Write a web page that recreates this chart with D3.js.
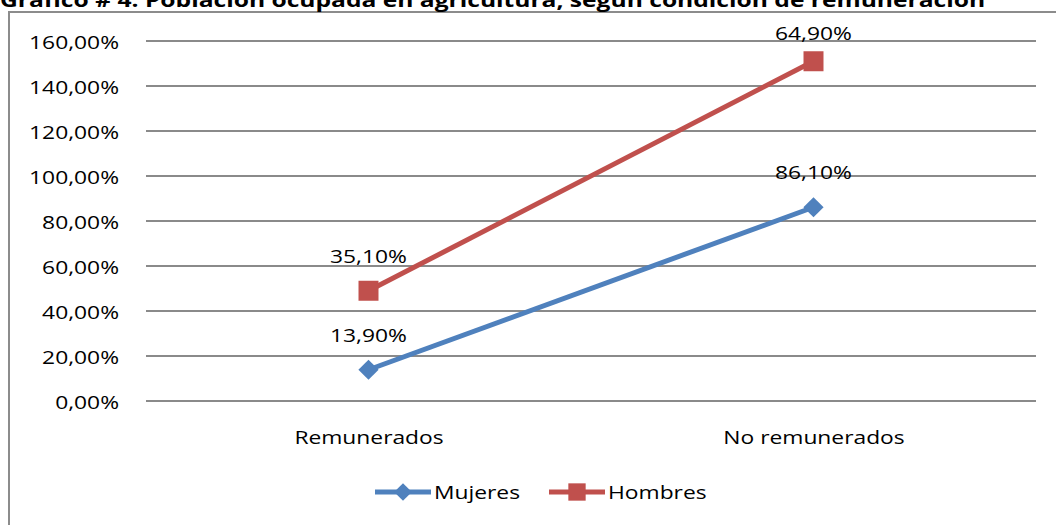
<!DOCTYPE html>
<html>
<head>
<meta charset="utf-8">
<script src="https://cdn.jsdelivr.net/npm/d3@7"></script>
<style>
  body { margin: 0; background: #fff; }
  svg { display: block; font-family: "Open Sans", sans-serif; }
</style>
</head>
<body>
<div id="chart"></div>
<script>
// data
const categories = ['Remunerados', 'No remunerados'];
const seriesNames = ['Mujeres', 'Hombres'];
const mujeres = [13.9, 86.1];
const hombres = [35.1, 64.9];
const yTicks = [0, 20, 40, 60, 80, 100, 120, 140, 160];
const title = 'Gráfico # 4. Población ocupada en agricultura, según condición de remuneración';

const width = 1056, height = 525;
const colors = { Mujeres: '#4F81BD', Hombres: '#C0504D' };
const stretchK = 1.2; // glyphs in the picture are wider than the installed fonts

const fmt = v => d3.format('.2f')(v).replace('.', ',') + '%';

function stretch(sel, k) {
  sel.each(function () {
    const w = this.getComputedTextLength();
    d3.select(this).attr('textLength', w * k).attr('lengthAdjust', 'spacingAndGlyphs');
  });
}

const svg = d3.select('#chart').append('svg')
  .attr('width', width)
  .attr('height', height);

// chart frame (runs past right and bottom edges)
svg.append('rect')
  .attr('x', 9).attr('y', 12)
  .attr('width', 1100).attr('height', 600)
  .attr('fill', 'none').attr('stroke', '#8c8c8c').attr('stroke-width', 2);

// title, cut off at the top as in the picture
const t = svg.append('text')
  .attr('x', 0).attr('y', 7)
  .attr('font-size', 20).attr('font-weight', 'bold').attr('fill', '#000')
  .text(title);
stretch(t, 1.23);

const x = d3.scalePoint().domain(categories).range([146, 1036]).padding(0.5);
const y = d3.scaleLinear().domain([0, 160]).range([401, 41]);

// gridlines
svg.append('g')
  .selectAll('line')
  .data(yTicks)
  .join('line')
  .attr('x1', 146).attr('x2', 1036)
  .attr('y1', d => y(d)).attr('y2', d => y(d))
  .attr('stroke', '#8a8a8a').attr('stroke-width', 2);

// y axis labels
const yAxis = svg.append('g')
  .attr('transform', 'translate(119,0)')
  .call(d3.axisLeft(y).tickValues(yTicks).tickSize(0).tickPadding(0).tickFormat(fmt));
yAxis.select('.domain').remove();
yAxis.selectAll('text')
  .attr('font-size', 19).attr('fill', '#000')
  .attr('font-family', '"Open Sans", sans-serif')
  .attr('dy', '0.4em');
stretch(yAxis.selectAll('text'), stretchK);

// x axis labels
const xAxis = svg.append('g')
  .attr('transform', 'translate(0,401)')
  .call(d3.axisBottom(x).tickSize(0).tickPadding(0));
xAxis.select('.domain').remove();
xAxis.selectAll('text')
  .attr('font-size', 19).attr('fill', '#000')
  .attr('font-family', '"Open Sans", sans-serif')
  .attr('y', 43).attr('dy', 0);
stretch(xAxis.selectAll('text'), stretchK);

// stacked series
const rows = categories.map((c, i) => ({ cat: c, Mujeres: mujeres[i], Hombres: hombres[i] }));
const stacked = d3.stack().keys(seriesNames)(rows);

const line = d3.line().x(d => x(d.data.cat)).y(d => y(d[1]));

const marker = {
  Mujeres: d3.symbol().type(d3.symbolDiamond2).size(260),
  Hombres: d3.symbol().type(d3.symbolSquare).size(400)
};

const series = svg.append('g').selectAll('g')
  .data(stacked)
  .join('g');

series.append('path')
  .attr('d', d => line(d))
  .attr('fill', 'none')
  .attr('stroke', d => colors[d.key])
  .attr('stroke-width', 5)
  .attr('stroke-linejoin', 'round');

series.each(function (s) {
  const g = d3.select(this);
  g.selectAll('path.m')
    .data(s)
    .join('path')
    .attr('class', 'm')
    .attr('d', marker[s.key]())
    .attr('transform', d => `translate(${x(d.data.cat)},${y(d[1])})`)
    .attr('fill', colors[s.key]);

  const lbl = g.selectAll('text')
    .data(s)
    .join('text')
    .attr('x', d => x(d.data.cat))
    .attr('y', d => Math.max(y(d[1]) - 28, 40))
    .attr('text-anchor', 'middle')
    .attr('font-size', 19).attr('fill', '#000')
    .text(d => fmt(d.data[s.key]));
  stretch(lbl, stretchK);
});

// legend
const legendItems = [
  { key: 'Mujeres', x: 375 },
  { key: 'Hombres', x: 549 }
];
const legend = svg.append('g').selectAll('g')
  .data(legendItems)
  .join('g')
  .attr('transform', d => `translate(${d.x},492)`);

legend.append('line')
  .attr('x1', 0).attr('x2', 56)
  .attr('stroke', d => colors[d.key]).attr('stroke-width', 5);

legend.append('path')
  .attr('d', d => d.key === 'Mujeres'
    ? d3.symbol().type(d3.symbolDiamond2).size(200)()
    : d3.symbol().type(d3.symbolSquare).size(300)())
  .attr('transform', 'translate(28,0)')
  .attr('fill', d => colors[d.key]);

const lt = legend.append('text')
  .attr('x', 59).attr('y', 0).attr('dy', '0.36em')
  .attr('font-size', 19).attr('fill', '#000')
  .text(d => d.key);
stretch(lt, stretchK);
</script>
</body>
</html>
